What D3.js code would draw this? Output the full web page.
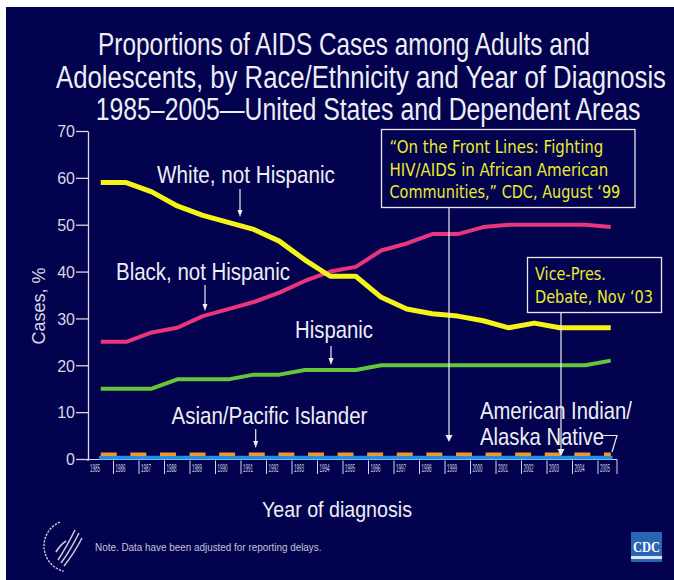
<!DOCTYPE html>
<html><head><meta charset="utf-8">
<script src="https://cdn.jsdelivr.net/npm/d3@7"></script>
<style>html,body{margin:0;padding:0;background:#fff;} svg{display:block;}</style>
</head><body>
<svg id="chart" width="674" height="580"></svg>
<script>
// ---------- DATA ----------
const years = [1985,1986,1987,1988,1989,1990,1991,1992,1993,1994,1995,1996,1997,1998,1999,2000,2001,2002,2003,2004,2005];
const whiteValues    = [59,59,57,54,52,50.5,49,46.5,42.5,39,39,34.5,32,31,30.5,29.5,28,29,28,28,28];
const blackValues    = [25,25,27,28,30.5,32,33.5,35.5,38,40,41,44.5,46,48,48,49.5,50,50,50,50,49.5];
const hispanicValues = [15,15,15,17,17,17,18,18,19,19,19,20,20,20,20,20,20,20,20,20,21];
const asianValues    = [1,1,1,1,1,1,1,1,1,1,1,1,1,1,1,1,1,1,1,1,1];
const aianValues     = [0.3,0.3,0.3,0.3,0.3,0.3,0.3,0.3,0.3,0.3,0.3,0.3,0.3,0.3,0.3,0.3,0.3,0.3,0.3,0.3,0.3];
const yTicks = [0,10,20,30,40,50,60,70];
const titleLines = ["Proportions of AIDS Cases among Adults and",
                    "Adolescents, by Race/Ethnicity and Year of Diagnosis",
                    "1985\u20132005\u2014United States and Dependent Areas"];
const note1Lines = ["\u201cOn the Front Lines: Fighting","HIV/AIDS in African American","Communities,\u201d CDC, August \u201899"];
const note2Lines = ["Vice-Pres.","Debate, Nov \u201803"];

// ---------- SETUP ----------
const svg = d3.select("#chart");
const FONT = "'Liberation Sans', Arial, sans-serif";
const NAVY = "#02024f";
const LIGHT = "#d8d8e4";

svg.append("rect").attr("x",6).attr("y",7).attr("width",668).attr("height",573).attr("fill",NAVY);

// text condensed horizontally to a target width via a scale transform
function txt(g, s, x, y, size, fill, len, anchor, family){
  const grp = g.append("g").attr("transform",`translate(${x},${y})`);
  const t = grp.append("text").attr("x",0).attr("y",0).text(s)
    .attr("font-family", family || FONT).attr("font-size",size).attr("fill",fill)
    .attr("text-anchor", anchor || "start");
  if (len) {
    const w = t.node().getComputedTextLength();
    if (w > 0) grp.attr("transform",`translate(${x},${y}) scale(${len/w},1)`);
  }
  return grp;
}

// Title
const titleLens = [492, 610, 545];
const titleBase = [55, 88, 120];
const titleX = [344, 361, 368];
titleLines.forEach((s,i)=> txt(svg, s, titleX[i], titleBase[i], 31, "#eeeef4", titleLens[i], "middle"));

// Scales
const x = d3.scaleBand().domain(years).range([88, 623.5]).padding(0);
const y = d3.scaleLinear().domain([0,70]).range([459,131]);
const cx = d => x(d) + x.bandwidth()/2;

// Y axis
const yAxis = svg.append("g").attr("transform","translate(88,0)")
  .call(d3.axisLeft(y).tickValues(yTicks).tickSize(12).tickSizeOuter(0).tickPadding(1));
yAxis.select(".domain").attr("stroke",LIGHT).attr("stroke-width",1.3);
yAxis.selectAll(".tick line").attr("stroke",LIGHT).attr("stroke-width",1.3);
yAxis.selectAll(".tick text").attr("fill",LIGHT).attr("font-family",FONT).attr("font-size",16)
  .attr("dy","0.36em");
svg.append("line").attr("x1",88).attr("x2",88).attr("y1",y(0)).attr("y2",461).attr("stroke",LIGHT).attr("stroke-width",1.3);
svg.append("line").attr("x1",80).attr("x2",617).attr("y1",459.5).attr("y2",459.5).attr("stroke",LIGHT).attr("stroke-width",1);

// X axis labels in cells
const xAxis = svg.append("g").attr("transform","translate(0,459.5)")
  .call(d3.axisBottom(x).tickSize(0).tickSizeOuter(0));
xAxis.select(".domain").remove();
xAxis.selectAll(".tick").each(function(d,i){
  const g = d3.select(this);
  g.select("text").attr("x",-x.bandwidth()/2 + 2).attr("y",12.5).attr("dy",0)
    .attr("text-anchor","start").attr("fill",LIGHT).attr("font-family",FONT).attr("font-size",11)
    .attr("textLength",10).attr("lengthAdjust","spacingAndGlyphs");
  if (i>0) g.append("line").attr("x1",-x.bandwidth()/2).attr("x2",-x.bandwidth()/2)
    .attr("y1",1).attr("y2",14.5).attr("stroke",LIGHT).attr("stroke-width",1);
});
svg.append("line").attr("x1",617).attr("x2",617).attr("y1",459.5).attr("y2",474).attr("stroke",LIGHT).attr("stroke-width",1);

// Axis titles
txt(svg, "Cases, %", 0, 0, 18, LIGHT, 80, "middle").attr("transform","translate(45,306) rotate(-90)");
txt(svg, "Year of diagnosis", 337, 517, 22, "#eeeef4", 150, "middle");

// Lines
const line = d3.line().x((d,i)=>cx(years[i])).y(d=>y(d));
svg.append("path").datum(aianValues).attr("d",line).attr("fill","none")
  .attr("stroke","#1f8fe8").attr("stroke-width",3.6).attr("stroke-linecap","square");
svg.append("path").datum(asianValues).attr("d",line).attr("fill","none")
  .attr("stroke","#f0962a").attr("stroke-width",3.6).attr("stroke-dasharray","16,13.6");
svg.append("path").datum(hispanicValues).attr("d",line).attr("fill","none")
  .attr("stroke","#62c83a").attr("stroke-width",4).attr("stroke-linejoin","round");
svg.append("path").datum(blackValues).attr("d",line).attr("fill","none")
  .attr("stroke","#e8357e").attr("stroke-width",4).attr("stroke-linejoin","round");
svg.append("path").datum(whiteValues).attr("d",line).attr("fill","none")
  .attr("stroke","#f4f418").attr("stroke-width",5).attr("stroke-linejoin","round");

// Arrow helper
function arrow(x0, y0, y1, color, hw, hh, sw){
  svg.append("line").attr("x1",x0).attr("x2",x0).attr("y1",y0).attr("y2",y1-hh+1)
    .attr("stroke",color).attr("stroke-width",sw||1.2);
  svg.append("path").attr("d",`M${x0-hw},${y1-hh}L${x0+hw},${y1-hh}L${x0},${y1}Z`).attr("fill",color);
}

// Series labels
const LBL = 24;
txt(svg, "White, not Hispanic", 246, 183, LBL, "#eeeef4", 178, "middle");
arrow(240, 189, 217, "#eeeef4", 2.5, 7);
txt(svg, "Black, not Hispanic", 203, 279.5, LBL, "#eeeef4", 174, "middle");
arrow(205, 285, 311, "#eeeef4", 2.5, 7);
txt(svg, "Hispanic", 334, 337.5, LBL, "#eeeef4", 78, "middle");
arrow(331, 346, 365, "#eeeef4", 2.5, 7);
txt(svg, "Asian/Pacific Islander", 269.5, 423.5, LBL, "#eeeef4", 196, "middle");
arrow(255.7, 429, 448, "#eeeef4", 2.5, 7);
txt(svg, "American Indian/", 480, 418.5, LBL, "#eeeef4", 152);
txt(svg, "Alaska Native", 480, 444.5, LBL, "#eeeef4", 124);
svg.append("path").attr("d","M603,435.5L617,435.5L612,452").attr("fill","none")
  .attr("stroke","#eeeef4").attr("stroke-width",1.2);

// Annotation boxes
const NOTE = "'DejaVu Sans', Verdana, sans-serif";
svg.append("rect").attr("x",381.5).attr("y",129.5).attr("width",253.5).attr("height",78)
  .attr("fill",NAVY).attr("stroke","#e8e8f0").attr("stroke-width",1.3);
const n1len = [214, 219, 231];
note1Lines.forEach((s,i)=> txt(svg, s, 389.5, 153 + i*22.6, 17, "#ecec2c", n1len[i], "start", NOTE));
arrow(449, 207.5, 442, "#eeeef4", 3.5, 7, 1.2);

svg.append("rect").attr("x",527.5).attr("y",257.5).attr("width",134).attr("height",55)
  .attr("fill",NAVY).attr("stroke","#e8e8f0").attr("stroke-width",1.3);
const n2len = [71, 118];
note2Lines.forEach((s,i)=> txt(svg, s, 535, 280 + i*22.6, 17, "#ecec2c", n2len[i], "start", NOTE));
arrow(561, 313, 456, "#eeeef4", 3.5, 7, 1.2);

// Footer note
txt(svg, "Note. Data have been adjusted for reporting delays.", 95, 551, 10.5, "#c4c4d4", 227);

// HHS logo (simplified)
const hhs = svg.append("g").attr("stroke","#c8c8d8").attr("fill","none");
hhs.append("path").attr("d", d3.arc()({innerRadius:26, outerRadius:26, startAngle:-Math.PI*0.92, endAngle:-Math.PI*0.12}))
  .attr("transform","translate(70,546)").attr("stroke-dasharray","1.5,2").attr("stroke-width",1.4);
[["M58,560 Q66,548 75,530"],["M61,563 Q70,551 79,533"],["M64,566 Q73,555 82,538"],["M56,552 Q60,545 66,541"]]
  .forEach(p=> hhs.append("path").attr("d",p[0]).attr("stroke-width",1.6));

// CDC logo
const cdc = svg.append("g");
cdc.append("rect").attr("x",631).attr("y",532).attr("width",31).attr("height",30).attr("fill","#2a64b4");
cdc.append("text").attr("x",646.5).attr("y",552).attr("text-anchor","middle").attr("fill","#ffffff")
  .attr("font-family","'Liberation Serif', 'Times New Roman', serif").attr("font-weight","bold")
  .attr("font-size",15).attr("textLength",27).attr("lengthAdjust","spacingAndGlyphs").text("CDC");
cdc.append("rect").attr("x",631).attr("y",556).attr("width",31).attr("height",3).attr("fill","#dfe6f2");
</script>
</body></html>
